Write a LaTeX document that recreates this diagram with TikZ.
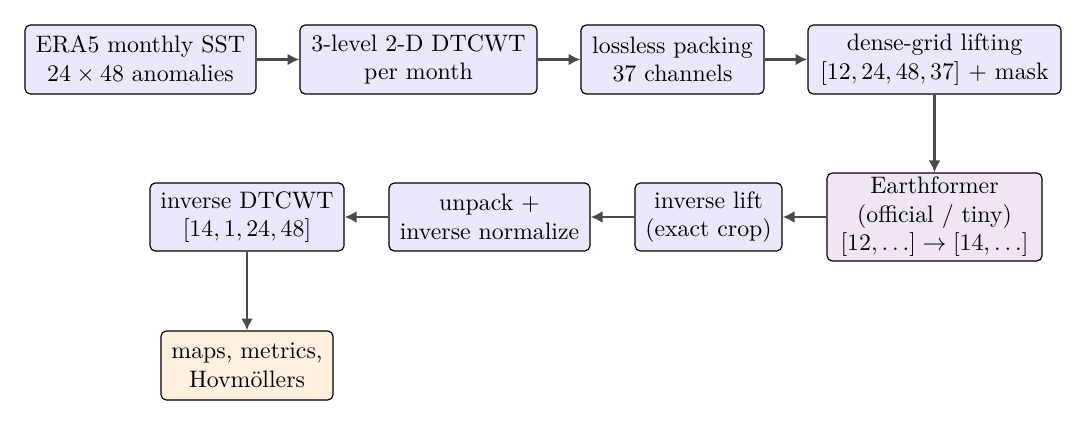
\documentclass[tikz,border=0pt]{standalone}
\usetikzlibrary{arrows.meta}
\definecolor{bfill}{HTML}{E8EAFB}
\definecolor{pfill}{HTML}{EFE5F3}
\definecolor{ofill}{HTML}{FEEFDE}
\definecolor{arr}{HTML}{4A4A4A}
\begin{document}
\begin{tikzpicture}[x=0.42pt,y=-0.42pt,
  box/.style={draw=black,rounded corners=2.2pt,align=center,inner sep=0pt,line width=0.5pt,fill=bfill},
  ar/.style={draw=arr,line width=1.1pt,-{Latex[length=5pt,width=5pt]}}]
\useasboundingbox (0,0) rectangle (1087,425);
\node[box,minimum width=231*0.42pt,minimum height=69*0.42pt] (a) at (140.5,59.5) {ERA5 monthly SST\\$24\times48$ anomalies};
\node[box,minimum width=237*0.42pt,minimum height=69*0.42pt] (b) at (418.5,59.5) {3-level 2-D DTCWT\\per month};
\node[box,minimum width=183*0.42pt,minimum height=69*0.42pt] (c) at (672.5,59.5) {lossless packing\\37 channels};
\node[box,minimum width=253*0.42pt,minimum height=69*0.42pt] (d) at (934.5,59.5) {dense-grid lifting\\$[12,24,48,37]$ + mask};
\node[box,fill=pfill,minimum width=215*0.42pt,minimum height=88*0.42pt] (e) at (934.5,217) {Earthformer\\(official / tiny)\\$[12,\ldots]\rightarrow[14,\ldots]$};
\node[box,minimum width=147*0.42pt,minimum height=68*0.42pt] (f) at (708.5,217) {inverse lift\\(exact crop)};
\node[box,minimum width=201*0.42pt,minimum height=68*0.42pt] (g) at (489.5,217) {unpack +\\inverse normalize};
\node[box,minimum width=194*0.42pt,minimum height=68*0.42pt] (h) at (247,217) {inverse DTCWT\\$[14,1,24,48]$};
\node[box,fill=ofill,minimum width=172*0.42pt,minimum height=69*0.42pt] (i) at (247,365.5) {maps, metrics,\\Hovmöllers};
\draw[ar] (a) -- (b);
\draw[ar] (b) -- (c);
\draw[ar] (c) -- (d);
\draw[ar] (d) -- (e);
\draw[ar] (e) -- (f);
\draw[ar] (f) -- (g);
\draw[ar] (g) -- (h);
\draw[ar] (h) -- (i);
\end{tikzpicture}
\end{document}
